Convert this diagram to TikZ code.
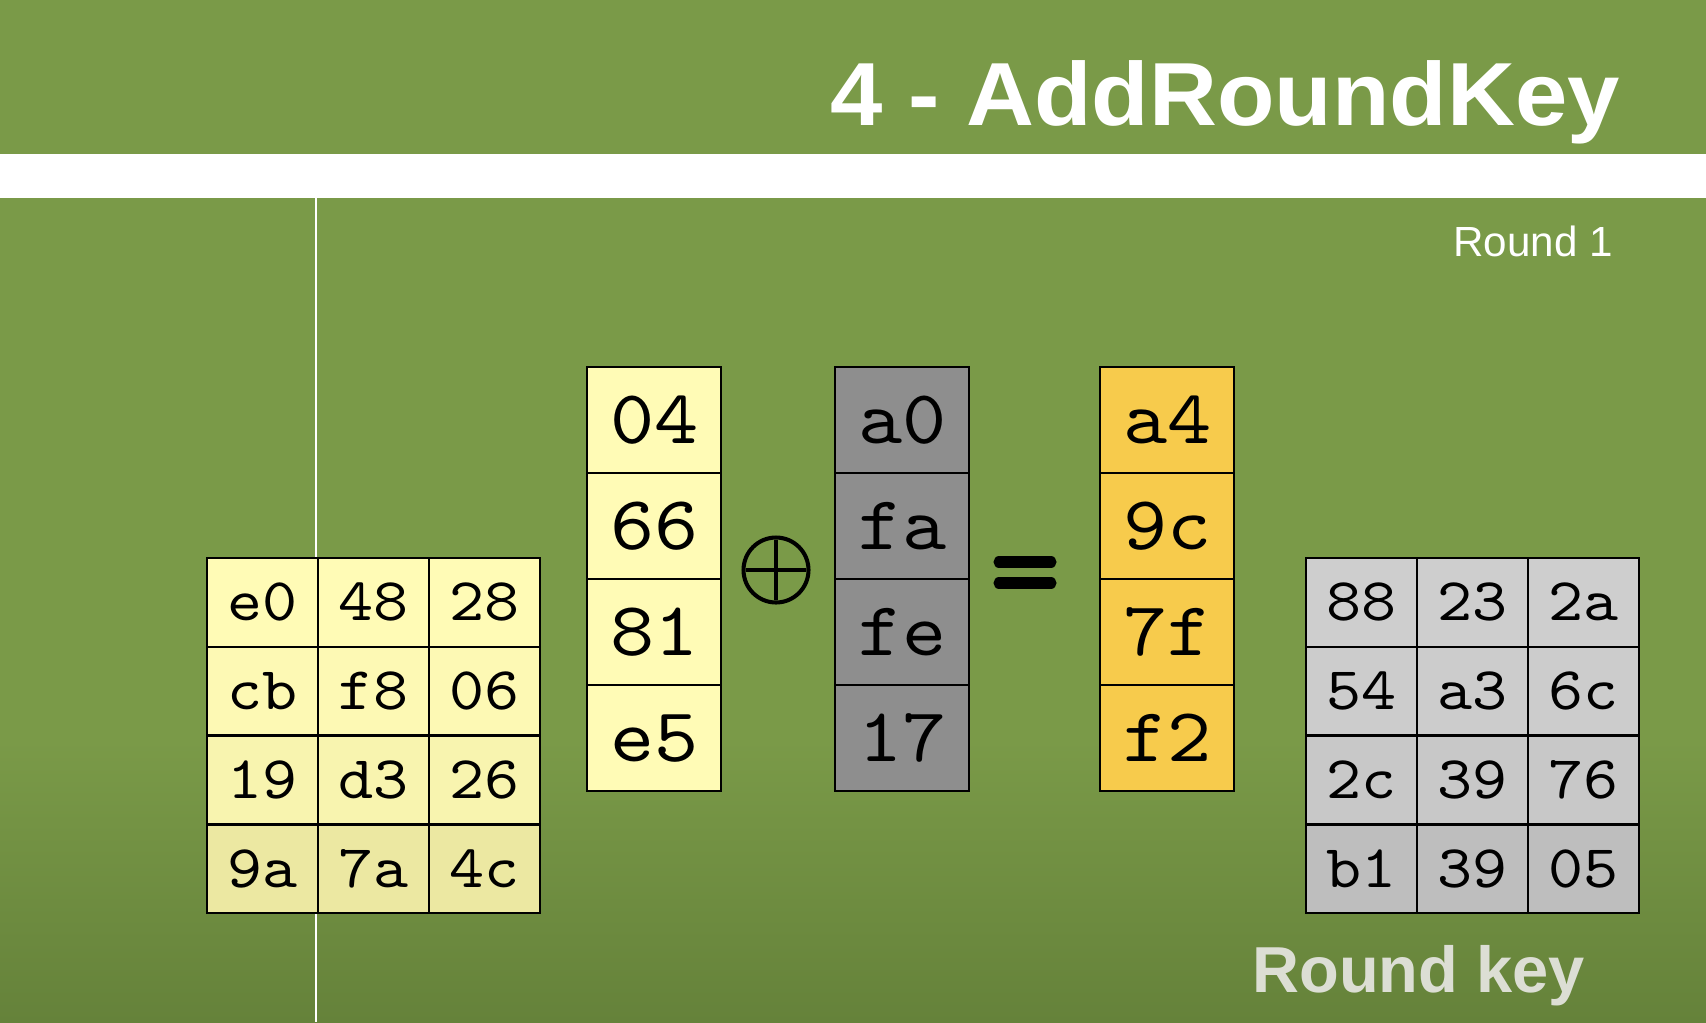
\documentclass[tikz,border=0pt]{standalone}
\usepackage{fontspec}
\setmainfont{Liberation Sans}
\newfontfamily\hexfont{lmmono10-regular}[Extension=.otf, FakeStretch=1.1]
\usetikzlibrary{positioning}

\definecolor{bggreen}{RGB}{122,154,72}
\definecolor{bgdark}{RGB}{101,130,58}
\definecolor{keygray}{RGB}{220,222,212}
\definecolor{stateyellow}{RGB}{255,251,182}
\definecolor{statedark}{RGB}{226,222,152}
\definecolor{wordgray}{RGB}{142,142,142}
\definecolor{resultorange}{RGB}{247,203,76}
\definecolor{keylight}{RGB}{206,206,206}
\definecolor{keydark}{RGB}{182,182,182}

\tikzset{
  hexcell/.style={draw=black, line width=1.3pt, inner sep=0pt, anchor=north west,
    minimum width=2.22cm, minimum height=1.775cm, text height=21pt, text depth=0pt,
    font=\hexfont\fontsize{34.5}{34.5}\selectfont},
  wordcell/.style={hexcell, minimum width=2.68cm, minimum height=2.12cm, text height=26.5pt,
    font=\hexfont\fontsize{43.5}{43.5}\selectfont},
  eqbar/.style={line width=6.3pt, line cap=round}
}

\begin{document}
\begin{tikzpicture}[x=0.02cm,y=-0.02cm]
        \useasboundingbox (0,0) rectangle (1706,1022);

        % Background and title band
        \fill[bggreen] (0,0) rectangle (1706,1022);
        \shade[top color=bggreen, bottom color=bgdark] (0,740) rectangle (1706,1022);
        \fill[white] (0,154) rectangle (1706,198);
        \draw[white, line width=1.1pt] (316,198) -- (316,1022);

        \node[anchor=base east, white, font=\bfseries\fontsize{51}{51}\selectfont\addfontfeature{FakeStretch=1.05}] (title) at (1626,125) {4 - AddRoundKey};
        \node[anchor=base east, white, font=\fontsize{24}{24}\selectfont] (round) at (1619,256) {Round 1};

        % State matrix
        \foreach \r/\m/\a/\b/\c in {1/100/e0/48/28, 2/92/cb/f8/06, 3/75/19/d3/26, 4/35/9a/7a/4c} {
          \node[hexcell, fill=stateyellow!\m!statedark] (s\r1) at (206, {557+(\r-1)*88.75}) {\a};
          \node[hexcell, fill=stateyellow!\m!statedark] (s\r2) at (317, {557+(\r-1)*88.75}) {\b};
          \node[hexcell, fill=stateyellow!\m!statedark] (s\r3) at (428, {557+(\r-1)*88.75}) {\c};
        }

        % Column words
        \foreach \r/\w/\k/\x in {1/04/a0/a4, 2/66/fa/9c, 3/81/fe/7f, 4/e5/17/f2} {
          \node[wordcell, fill=stateyellow] (w\r) at (586, {366+(\r-1)*106}) {\w};
          \node[wordcell, fill=wordgray] (k\r) at (834, {366+(\r-1)*106}) {\k};
          \node[wordcell, fill=resultorange] (x\r) at (1099, {366+(\r-1)*106}) {\x};
        }

        % XOR sign
        \node[circle, draw=black, line width=2.3pt, minimum size=1.3cm, inner sep=0pt] (xor) at (776,570) {};
        \draw[line width=2.3pt, shorten >=2.5pt, shorten <=2.5pt] (xor.north) -- (xor.south);
        \draw[line width=2.3pt, shorten >=2.5pt, shorten <=2.5pt] (xor.west) -- (xor.east);

        % Equals sign
        \draw[eqbar] (999,562) -- (1051,562);
        \draw[eqbar] (999,583) -- (1051,583);

        % Round key matrix
        \foreach \r/\m/\a/\b/\c in {1/100/88/23/2a, 2/92/54/a3/6c, 3/75/2c/39/76, 4/35/b1/39/05} {
          \node[hexcell, fill=keylight!\m!keydark] (rk\r1) at (1305, {557+(\r-1)*88.75}) {\a};
          \node[hexcell, fill=keylight!\m!keydark] (rk\r2) at (1416, {557+(\r-1)*88.75}) {\b};
          \node[hexcell, fill=keylight!\m!keydark] (rk\r3) at (1527, {557+(\r-1)*88.75}) {\c};
        }

        \node[anchor=base east, keygray, font=\bfseries\fontsize{37}{37}\selectfont] (keylabel) at (1591,992) {Round key};
\end{tikzpicture}
\end{document}
